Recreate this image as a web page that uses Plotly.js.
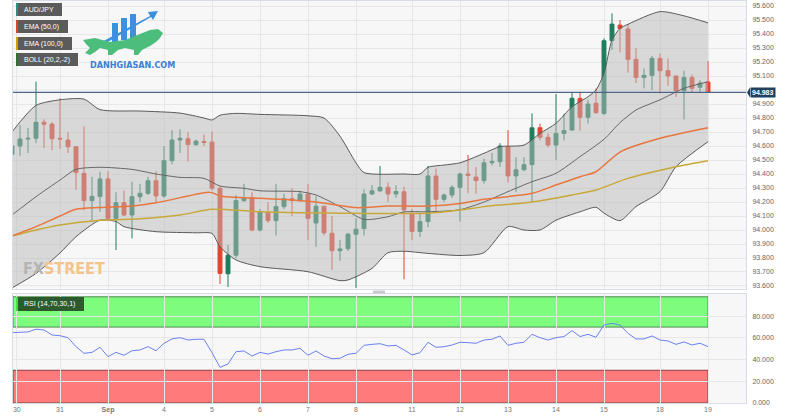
<!DOCTYPE html>
<html>
<head>
<meta charset="utf-8">
<script src="https://cdn.plot.ly/plotly-3.0.1.min.js"></script>
<style>
  html, body { margin: 0; padding: 0; background: #fff; }
  #chart { width: 800px; height: 420px; }
</style>
</head>
<body>
<div id="chart"></div>
<script>
// --- 4h candles AUD/JPY (index = candle number) ---
let candleIdx = [];
for (let i = 0; i < 88; i++) candleIdx.push(i);

let opens = [94.54, 94.60, 94.65, 94.655, 94.77, 94.757, 94.655, 94.643, 94.595, 94.405,
  94.21, 94.24, 94.365, 94.083, 94.195, 94.107, 94.238, 94.262, 94.352, 94.243,
  94.495, 94.643, 94.652, 94.61, 94.632, 94.628, 94.298, 93.687, 93.82, 94.21,
  94.23, 94.0, 94.125, 94.067, 94.167, 94.224, 94.21, 94.257, 94.05, 94.17,
  93.977, 93.852, 93.867, 93.97, 94.01, 94.257, 94.28, 94.305, 94.257, 94.273,
  94.119, 93.99, 94.06, 94.386, 94.219, 94.25, 94.305, 94.40, 94.378, 94.353,
  94.48, 94.488, 94.595, 94.386, 94.43, 94.467, 94.731, 94.662, 94.607, 94.69,
  94.714, 94.94, 94.805, 94.905, 94.833, 95.352, 95.464, 95.436, 95.219, 95.09,
  95.105, 95.226, 95.138, 95.10, 94.995, 95.09, 95.02, 95.057];
let highs = [94.63, 94.75, 94.73, 95.06, 94.79, 94.77, 94.94, 94.70, 94.595, 94.74,
  94.38, 94.416, 94.42, 94.27, 94.28, 94.345, 94.33, 94.38, 94.42, 94.60,
  94.714, 94.72, 94.70, 94.645, 94.68, 94.705, 94.31, 93.893, 94.25, 94.33,
  94.27, 94.15, 94.20, 94.33, 94.26, 94.30, 94.28, 94.33, 94.24, 94.17,
  94.10, 93.93, 93.98, 94.083, 94.29, 94.32, 94.457, 94.34, 94.32, 94.31,
  94.15, 94.12, 94.457, 94.44, 94.26, 94.32, 94.41, 94.536, 94.45, 94.51,
  94.55, 94.62, 94.714, 94.52, 94.52, 94.833, 94.76, 94.69, 94.971, 94.83,
  94.98, 94.988, 94.93, 95.012, 95.369, 95.548, 95.50, 95.47, 95.30, 95.155,
  95.243, 95.26, 95.226, 95.10, 95.138, 95.11, 95.07, 95.207];
let lows = [94.50, 94.53, 94.55, 94.62, 94.585, 94.57, 94.58, 94.55, 94.286, 94.14,
  94.06, 94.13, 94.07, 93.857, 94.10, 93.94, 94.20, 94.25, 94.20, 94.23,
  94.47, 94.55, 94.49, 94.60, 94.60, 94.28, 93.614, 93.593, 93.80, 94.20,
  93.99, 93.99, 94.05, 93.96, 94.15, 94.10, 94.20, 93.93, 93.88, 93.96,
  93.714, 93.78, 93.85, 93.586, 93.96, 94.25, 94.27, 94.20, 94.23, 93.648,
  93.93, 93.95, 94.02, 94.13, 94.20, 94.23, 94.06, 94.262, 94.26, 94.33,
  94.46, 94.45, 94.34, 94.27, 94.42, 94.202, 94.64, 94.59, 94.50, 94.64,
  94.71, 94.71, 94.76, 94.83, 94.82, 95.286, 95.27, 95.124, 95.05, 95.012,
  95.0, 94.976, 95.029, 94.95, 94.79, 94.98, 94.98, 94.983];
let closes = [94.60, 94.65, 94.655, 94.77, 94.755, 94.652, 94.65, 94.595, 94.41, 94.21,
  94.24, 94.365, 94.083, 94.195, 94.107, 94.238, 94.262, 94.352, 94.243, 94.495,
  94.643, 94.655, 94.61, 94.635, 94.625, 94.298, 93.69, 93.82, 94.21, 94.23,
  94.0, 94.13, 94.067, 94.167, 94.224, 94.21, 94.257, 94.083, 94.17, 93.98,
  93.852, 93.865, 93.97, 94.005, 94.257, 94.28, 94.305, 94.257, 94.275, 94.143,
  93.99, 94.06, 94.386, 94.219, 94.25, 94.305, 94.40, 94.39, 94.353, 94.48,
  94.49, 94.60, 94.386, 94.43, 94.467, 94.73, 94.662, 94.607, 94.69, 94.71,
  94.941, 94.805, 94.90, 94.838, 95.352, 95.471, 95.44, 95.219, 95.09, 95.105,
  95.226, 95.138, 95.10, 94.995, 95.09, 95.012, 95.05, 94.983];
let lastPrice = 94.983;

// Bollinger (20,2) - read at these candles
let bollUpIdx = [0, 3, 6, 9, 11, 16, 21, 24, 25, 26, 28, 31, 37, 39, 41, 43, 44, 49, 51, 52, 54, 56, 59, 61, 64, 66, 68, 70, 72, 73, 74, 75, 76, 77, 81, 84, 87];
let bollUp = [94.70, 94.89, 94.93, 94.935, 94.86, 94.85, 94.835, 94.80, 94.786, 94.82, 94.833, 94.826, 94.816, 94.80, 94.67, 94.48, 94.41, 94.40, 94.40, 94.448, 94.464, 94.48, 94.548, 94.595, 94.607, 94.69, 94.762, 94.88, 94.952, 95.0, 95.12, 95.357, 95.44, 95.47, 95.56, 95.53, 95.48];
let bollMidIdx = [0, 3, 6, 8, 11, 15, 18, 21, 24, 26, 29, 31, 36, 38, 41, 44, 47, 49, 52, 56, 59, 62, 65, 68, 71, 74, 76, 78, 81, 84, 87];
let bollMid = [94.107, 94.238, 94.357, 94.433, 94.448, 94.433, 94.40, 94.376, 94.369, 94.314, 94.298, 94.28, 94.274, 94.25, 94.167, 94.076, 94.095, 94.129, 94.13, 94.145, 94.2, 94.274, 94.345, 94.405, 94.524, 94.648, 94.767, 94.857, 94.93, 95.012, 95.059];
let bollLowIdx = [0, 3, 6, 8, 11, 13, 14, 18, 23, 25, 26, 28, 31, 37, 41, 42, 45, 47, 49, 52, 56, 59, 62, 64, 66, 68, 71, 73, 74, 76, 78, 81, 83, 87];
let bollLow = [93.586, 93.69, 93.836, 93.952, 94.07, 94.06, 94.024, 93.988, 93.98, 93.975, 93.88, 93.786, 93.738, 93.702, 93.638, 93.643, 93.726, 93.838, 93.848, 93.833, 93.818, 93.838, 94.024, 94.0, 94.0, 94.07, 94.13, 94.162, 94.12, 94.067, 94.167, 94.274, 94.452, 94.631];

// EMA lines
let ema50Idx = [0, 3, 6, 8, 11, 15, 18, 22, 24, 25, 26, 31, 35, 38, 43, 47, 52, 56, 59, 65, 68, 71, 73, 76, 81, 87];
let ema50 = [93.957, 94.024, 94.10, 94.148, 94.16, 94.171, 94.195, 94.243, 94.267, 94.267, 94.243, 94.226, 94.215, 94.20, 94.16, 94.171, 94.171, 94.19, 94.219, 94.262, 94.321, 94.38, 94.416, 94.557, 94.655, 94.731];
let ema100Idx = [0, 3, 6, 11, 16, 21, 25, 31, 43, 52, 56, 59, 65, 70, 73, 77, 83, 87];
let ema100 = [93.957, 94.0, 94.036, 94.07, 94.08, 94.107, 94.148, 94.13, 94.119, 94.12, 94.143, 94.167, 94.2, 94.25, 94.286, 94.369, 94.452, 94.495];

// RSI (14)
let rsi = [64.8, 65.0, 65.5, 68, 67.3, 62.7, 62, 60.2, 51.9, 45.7,
  46.6, 51.3, 42.6, 46.6, 43.9, 48.1, 48.8, 51.9, 48.1, 55,
  59, 60.2, 58, 58.7, 58.7, 46.3, 32.7, 35.8, 47.2, 47.9,
  43.2, 46.6, 45, 47.2, 48.8, 48.8, 50.3, 43.9, 47.9, 43.2,
  40.7, 41.1, 44.8, 45.7, 53.1, 54, 54.6, 52.5, 53.1, 48.8,
  44.2, 46.3, 55.9, 51.3, 51.8, 53.4, 55.9, 55.6, 55, 58,
  58.7, 61.8, 53.1, 55, 55.9, 63.3, 60.2, 58, 60.2, 61.2,
  66.7, 61.2, 63.3, 60.5, 71.9, 73.5, 71.9, 64.2, 59, 59,
  61.8, 58, 57.1, 54, 56.2, 53.4, 55, 51.9];

// Day labels and price ticks (95.000 sits under the last price tag)
let dayTickVals = [0.6, 6, 12, 19, 25, 31, 37, 43, 50, 56, 62, 68, 74, 81, 87];
let dayTickText = ['30', '31', '<b>Sep</b>', '4', '5', '6', '7', '8', '11', '12', '13', '14', '15', '18', '19'];
let priceTicks = [93.6, 93.7, 93.8, 93.9, 94.0, 94.1, 94.2, 94.3, 94.4, 94.5, 94.6, 94.7, 94.8, 94.9, 95.1, 95.2, 95.3, 95.4, 95.5, 95.6];
let rsiTicks = [0, 20, 40, 60, 80];

let FONT = 'Liberation Sans, Arial, sans-serif';
let gridC = '#e7e7e7';
let lastIdx = candleIdx[candleIdx.length - 1];

function bandLine(x, y, color, extra) {
  return Object.assign({
    x: x, y: y, mode: 'lines', xaxis: 'x', yaxis: 'y',
    line: { color: color, width: 1, shape: 'spline', smoothing: 0.7 },
    hoverinfo: 'skip', showlegend: false
  }, extra || {});
}

let traces = [
  {
    type: 'candlestick', x: candleIdx, open: opens, high: highs, low: lows, close: closes,
    xaxis: 'x', yaxis: 'y', whiskerwidth: 0, hoverinfo: 'skip', showlegend: false,
    increasing: { line: { color: '#1f7d5f', width: 1 }, fillcolor: '#1f7d5f' },
    decreasing: { line: { color: '#e2452f', width: 1 }, fillcolor: '#e2452f' }
  },
  bandLine(bollLowIdx, bollLow, '#5a5a5a'),
  bandLine(bollUpIdx, bollUp, '#5a5a5a', { fill: 'tonexty', fillcolor: 'rgba(185,185,185,0.5)' }),
  bandLine(bollMidIdx, bollMid, '#666'),
  bandLine(ema100Idx, ema100, '#c9a83a'),
  bandLine(ema50Idx, ema50, '#e8763e'),
  {
    x: candleIdx, y: rsi, mode: 'lines', xaxis: 'x2', yaxis: 'y2',
    line: { color: '#6b82f2', width: 1 }, hoverinfo: 'skip', showlegend: false
  }
];
traces[4].line.width = 1.5;
traces[5].line.width = 1.5;

// pixel-sized box helper (anchored to the top-left of the plot area)
function pxRect(x0, x1, y0, y1, color, yref, yanchor) {
  return {
    type: 'rect', xref: 'paper', xsizemode: 'pixel', xanchor: 0, x0: x0, x1: x1,
    yref: yref || 'paper', ysizemode: 'pixel', yanchor: yanchor === undefined ? 1 : yanchor,
    y0: -y0, y1: -y1, fillcolor: color, line: { width: 0 }, layer: 'above'
  };
}

let shapes = [
  // grid line hidden behind the price tag
  { type: 'line', xref: 'paper', yref: 'y', x0: 0, x1: 1, y0: 95.0, y1: 95.0,
    line: { color: gridC, width: 1 }, layer: 'below' },
  // RSI zones
  { type: 'rect', xref: 'x2', yref: 'y2', x0: 0.125, x1: lastIdx, y0: 70, y1: 98,
    fillcolor: '#7efc7e', line: { color: '#4b8a4b', width: 1 }, layer: 'below' },
  { type: 'rect', xref: 'x2', yref: 'y2', x0: 0.125, x1: lastIdx, y0: -0.3, y1: 30,
    fillcolor: '#ff7b7b', line: { color: '#8a3c3c', width: 1 }, layer: 'below' },
  // last price line
  { type: 'line', xref: 'paper', yref: 'y', x0: 0, x1: 1, y0: lastPrice, y1: lastPrice,
    line: { color: '#4c6786', width: 1.2 }, layer: 'above' },
  { type: 'path', xref: 'paper', xsizemode: 'pixel', xanchor: 1, yref: 'y', ysizemode: 'pixel',
    yanchor: lastPrice, path: 'M 1 0 L 4 5 L 4 -5 Z', fillcolor: '#23405f', line: { width: 0 } },
  // indicator tags
  pxRect(3, 49, 2, 15, '#5b5b5b'), pxRect(3, 5, 2, 15, '#2a8f7c'),
  pxRect(3, 55, 19, 32, '#5b5b5b'), pxRect(3, 5, 19, 32, '#d8452a'),
  pxRect(3, 59, 36, 49, '#5b5b5b'), pxRect(3, 5, 36, 49, '#c9a300'),
  pxRect(3, 65, 52, 65, '#5b5b5b'), pxRect(3, 5, 52, 65, '#2f6f2f'),
  pxRect(3, 71, 3, 17, '#2d5a2d', 'y2 domain', 1), pxRect(3, 5, 3, 17, '#3fe43f', 'y2 domain', 1),
  // panel handle
  pxRect(360, 372, 289.5, 292.5, '#cacaca'),
  // logo
  { type: 'path', xref: 'paper', xsizemode: 'pixel', xanchor: 0, yref: 'paper', ysizemode: 'pixel', yanchor: 1,
    path: 'M 99 -41 L 105 -41 L 105 -22 L 99 -22 Z M 108 -39 L 114 -39 L 114 -17 L 108 -17 Z M 117 -37 L 123 -37 L 123 -13 L 117 -13 Z',
    fillcolor: '#3d8fe0', line: { width: 0 } },
  { type: 'path', xref: 'paper', xsizemode: 'pixel', xanchor: 0, yref: 'paper', ysizemode: 'pixel', yanchor: 1,
    path: 'M 85 -43 L 137 -15 L 135 -11 L 145 -10 L 140 -19 L 138 -16 L 86 -46 Z',
    fillcolor: '#3d8fe0', line: { width: 0 } },
  { type: 'path', xref: 'paper', xsizemode: 'pixel', xanchor: 0, yref: 'paper', ysizemode: 'pixel', yanchor: 1,
    path: 'M 70 -39 L 82 -37 L 97 -41 L 112 -39 L 127 -33 L 137 -29 L 145 -28 L 150 -32 L 147 -37 L 143 -41 L 137 -45 L 129 -49 L 125 -54 L 121 -54 L 121 -49 L 112 -47 L 105 -49 L 99 -54 L 95 -54 L 95 -49 L 87 -47 L 82 -51 L 77 -54 L 72 -52 L 77 -47 L 73 -43 Z',
    fillcolor: '#4dbd7c', line: { width: 0 } }
];

function tag(text, yshift, yref, y) {
  return {
    xref: 'paper', x: 0, xshift: 9, xanchor: 'left', yref: yref || 'paper', y: y === undefined ? 1 : y,
    yshift: yshift, yanchor: 'middle', text: text, showarrow: false,
    font: { family: FONT, size: 7, color: '#ffffff' }
  };
}

let annotations = [
  tag('AUD/JPY', -8.5), tag('EMA (50,0)', -25.5), tag('EMA (100,0)', -42.5), tag('BOLL (20,2,-2)', -58.5),
  tag('RSI (14,70,30,1)', -10, 'y2 domain', 1),
  {
    xref: 'paper', x: 1, xshift: 4, xanchor: 'left', yref: 'y', y: lastPrice, yanchor: 'middle',
    text: '<b>' + lastPrice.toFixed(3) + '</b>', showarrow: false, bgcolor: '#23405f', borderpad: 1,
    font: { family: FONT, size: 7, color: '#ffffff' }
  },
  {
    xref: 'paper', x: 0, xshift: 75, xanchor: 'left', yref: 'paper', y: 1, yshift: -64, yanchor: 'middle',
    text: '<b>DANHGIASAN.COM</b>', showarrow: false,
    font: { family: 'DejaVu Sans Condensed, DejaVu Sans', size: 9, color: '#3b80d2' }
  },
  {
    xref: 'paper', x: 0, xshift: 8, xanchor: 'left', yref: 'y domain', y: 0, yshift: 20, yanchor: 'middle',
    text: '<b><span style="color:#b4b4b4">FX</span><span style="color:#f3c48e">STREET</span></b>',
    showarrow: false, font: { family: 'DejaVu Sans Condensed, sans-serif', size: 16 }
  }
];

let xCommon = {
  range: [0.125, 91.75], tickvals: dayTickVals, ticktext: dayTickText,
  showgrid: true, gridcolor: gridC, zeroline: false, showline: true, linecolor: '#d6dcea', mirror: true,
  ticks: '', fixedrange: true
};

function yCommon(extra) {
  return Object.assign({
    side: 'right', tickformat: '.3f', ticks: 'outside', ticklen: 4, tickcolor: 'rgba(0,0,0,0)',
    showgrid: true, gridcolor: gridC, zeroline: false, showline: true, linecolor: '#d6dcea', mirror: true,
    tickfont: { family: FONT, size: 7, color: '#666' }, fixedrange: true
  }, extra);
}

let layout = {
  width: 800, height: 420,
  margin: { l: 13, r: 54, t: 1, b: 17 },
  paper_bgcolor: '#ffffff', plot_bgcolor: '#f7f7f7',
  showlegend: false,
  font: { family: FONT, size: 7, color: '#666' },
  xaxis: Object.assign({}, xCommon, { anchor: 'y', showticklabels: false, rangeslider: { visible: false } }),
  xaxis2: Object.assign({}, xCommon, { anchor: 'y2', showticklabels: true, tickfont: { family: FONT, size: 7, color: '#777' } }),
  yaxis: yCommon({ domain: [0.2848, 1], range: [93.582, 95.636], anchor: 'x', tickvals: priceTicks }),
  yaxis2: yCommon({ domain: [0, 0.2711], range: [-0.3, 100.6], anchor: 'x2', tickvals: rsiTicks }),
  shapes: shapes,
  annotations: annotations
};

Plotly.newPlot('chart', traces, layout, { displayModeBar: false, staticPlot: true });
</script>
</body>
</html>
